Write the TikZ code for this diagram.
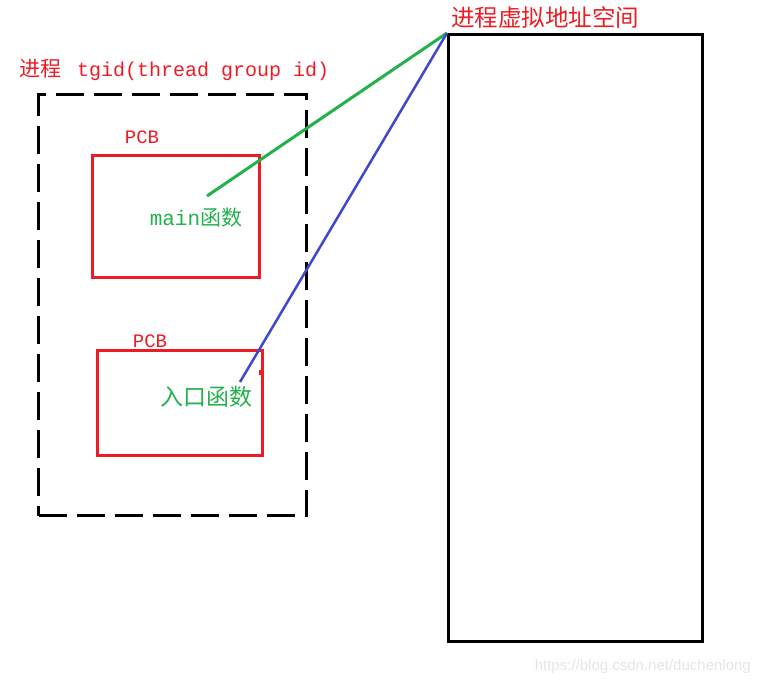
\documentclass[tikz,border=0pt]{standalone}
\usepackage{fontspec}
\setmonofont{Liberation Mono}
\newfontfamily\cjk{Noto Sans CJK SC}
\newfontfamily\wmfont{Liberation Sans}
\usetikzlibrary{positioning}
\definecolor{myred}{RGB}{237,28,36}
\definecolor{mygreen}{RGB}{34,177,76}
\definecolor{myblue}{RGB}{63,72,204}

\begin{document}
\begin{tikzpicture}[x=1pt,y=-1pt,
    box/.style={draw=#1, line width=3pt, inner sep=0pt, anchor=north west},
    lbl/.style={inner sep=0pt, font=\fontsize{20}{20}\selectfont}]
    % basics
    \useasboundingbox (0,0) rectangle (760,685);
    \node[box=black, dash pattern=on 28pt off 10pt, minimum width=268pt, minimum height=421pt] (group) at (37,93) {};
    \node[box=black, minimum width=254pt, minimum height=607pt] (vas) at (447,33) {};
    \node[box=myred, minimum width=167pt, minimum height=122pt] (pcbA) at (91,154) {};
    \node[box=myred, minimum width=165pt, minimum height=105pt] (pcbB) at (96,349) {};
    \fill[myred] (259,370) rectangle (264,375);

    % text
    \node[lbl, anchor=west, text=myred] (grouptitle) at (19,70) {{\cjk\fontsize{21}{21}\selectfont 进程}\hspace{16pt}\texttt{tgid(thread group id)}};
    \node[lbl, anchor=west, text=myred, font=\cjk\fontsize{23.5}{23.5}\selectfont] (vastitle) at (451,18) {进程虚拟地址空间};
    \node[lbl, text=myred, font=\ttfamily\fontsize{19}{19}\selectfont] (pcbAlbl) at (142,137) {PCB};
    \node[lbl, text=myred, font=\ttfamily\fontsize{19}{19}\selectfont] (pcbBlbl) at (150,341) {PCB};
    \node[lbl, text=mygreen, font=\fontsize{21}{21}\selectfont] (mainfn) at (196,218) {\texttt{main}{\cjk 函数}};
    \node[lbl, text=mygreen, font=\cjk\fontsize{23}{23}\selectfont] (entryfn) at (206,397) {入口函数};
    \node[lbl, anchor=east, text=black!10, font=\wmfont\fontsize{15}{15}\selectfont] (mark) at (751,667) {https://blog.csdn.net/duchenlong};

    % links
    \coordinate (mainfoot) at (207,196);
    \coordinate (entryfoot) at (240,382);
    \draw[mygreen, line width=3pt] (mainfoot) -- (vas.north west);
    \draw[myblue, line width=2.5pt] (entryfoot) -- (vas.north west);
\end{tikzpicture}
\end{document}
